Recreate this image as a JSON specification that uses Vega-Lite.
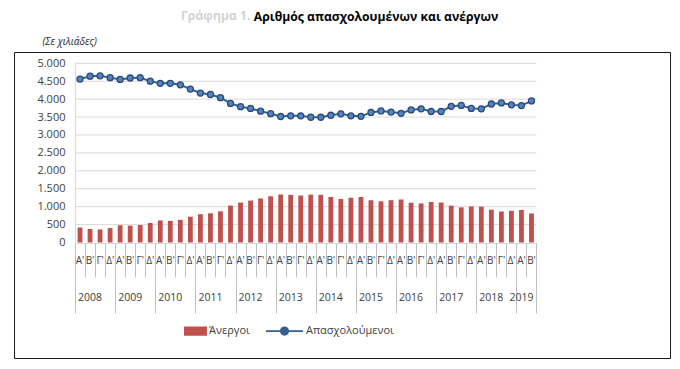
{
  "$schema": "https://vega.github.io/schema/vega-lite/v6.json",
  "width": 656,
  "height": 306,
  "autosize": {"type": "none"},
  "padding": {"left": 14, "top": 52, "right": 10, "bottom": 11},
  "title": {
    "text": "Αριθμός απασχολουμένων και ανέργων",
    "fontSize": 12.2,
    "fontWeight": "bold",
    "color": "#000000",
    "font": "Open Sans",
    "anchor": "middle",
    "frame": "group",
    "dx": 34,
    "offset": -14
  },
  "data": {
    "values": [
      {"quarter": "2008 Α'", "unemployed": 418, "employed": 4560},
      {"quarter": "2008 Β'", "unemployed": 376, "employed": 4640},
      {"quarter": "2008 Γ'", "unemployed": 364, "employed": 4650},
      {"quarter": "2008 Δ'", "unemployed": 402, "employed": 4600},
      {"quarter": "2009 Α'", "unemployed": 482, "employed": 4550},
      {"quarter": "2009 Β'", "unemployed": 470, "employed": 4590},
      {"quarter": "2009 Γ'", "unemployed": 489, "employed": 4600},
      {"quarter": "2009 Δ'", "unemployed": 545, "employed": 4500},
      {"quarter": "2010 Α'", "unemployed": 614, "employed": 4440},
      {"quarter": "2010 Β'", "unemployed": 602, "employed": 4440},
      {"quarter": "2010 Γ'", "unemployed": 633, "employed": 4400},
      {"quarter": "2010 Δ'", "unemployed": 720, "employed": 4280},
      {"quarter": "2011 Α'", "unemployed": 789, "employed": 4170},
      {"quarter": "2011 Β'", "unemployed": 815, "employed": 4130},
      {"quarter": "2011 Γ'", "unemployed": 870, "employed": 4040},
      {"quarter": "2011 Δ'", "unemployed": 1029, "employed": 3880},
      {"quarter": "2012 Α'", "unemployed": 1114, "employed": 3790},
      {"quarter": "2012 Β'", "unemployed": 1169, "employed": 3740},
      {"quarter": "2012 Γ'", "unemployed": 1230, "employed": 3665},
      {"quarter": "2012 Δ'", "unemployed": 1290, "employed": 3595},
      {"quarter": "2013 Α'", "unemployed": 1340, "employed": 3515},
      {"quarter": "2013 Β'", "unemployed": 1330, "employed": 3535},
      {"quarter": "2013 Γ'", "unemployed": 1310, "employed": 3535},
      {"quarter": "2013 Δ'", "unemployed": 1335, "employed": 3495},
      {"quarter": "2014 Α'", "unemployed": 1330, "employed": 3495},
      {"quarter": "2014 Β'", "unemployed": 1270, "employed": 3550},
      {"quarter": "2014 Γ'", "unemployed": 1213, "employed": 3590},
      {"quarter": "2014 Δ'", "unemployed": 1250, "employed": 3535},
      {"quarter": "2015 Α'", "unemployed": 1270, "employed": 3520},
      {"quarter": "2015 Β'", "unemployed": 1180, "employed": 3630},
      {"quarter": "2015 Γ'", "unemployed": 1150, "employed": 3670},
      {"quarter": "2015 Δ'", "unemployed": 1180, "employed": 3640},
      {"quarter": "2016 Α'", "unemployed": 1200, "employed": 3605},
      {"quarter": "2016 Β'", "unemployed": 1110, "employed": 3700},
      {"quarter": "2016 Γ'", "unemployed": 1090, "employed": 3730},
      {"quarter": "2016 Δ'", "unemployed": 1130, "employed": 3655},
      {"quarter": "2017 Α'", "unemployed": 1115, "employed": 3655},
      {"quarter": "2017 Β'", "unemployed": 1030, "employed": 3800},
      {"quarter": "2017 Γ'", "unemployed": 980, "employed": 3825},
      {"quarter": "2017 Δ'", "unemployed": 1005, "employed": 3740},
      {"quarter": "2018 Α'", "unemployed": 1000, "employed": 3730},
      {"quarter": "2018 Β'", "unemployed": 915, "employed": 3865},
      {"quarter": "2018 Γ'", "unemployed": 865, "employed": 3895},
      {"quarter": "2018 Δ'", "unemployed": 885, "employed": 3840},
      {"quarter": "2019 Α'", "unemployed": 910, "employed": 3820},
      {"quarter": "2019 Β'", "unemployed": 810, "employed": 3950}
    ]
  },
  "layer": [
    {
      "data": {"values": [{"g": 500}, {"g": 1000}, {"g": 1500}, {"g": 2000}, {"g": 2500}, {"g": 3000}, {"g": 3500}, {"g": 4000}, {"g": 4500}, {"g": 5000}]},
      "mark": {"type": "rule", "color": "#D9D9D9", "strokeWidth": 1, "xOffset": -5, "x2Offset": 5},
      "encoding": {
        "x": {"datum": "2008 Α'", "type": "nominal", "axis": null},
        "x2": {"datum": "2019 Β'"},
        "y": {"field": "g", "type": "quantitative", "axis": null}
      }
    },
    {
      "mark": {"type": "bar", "width": {"band": 0.48}},
      "encoding": {
        "x": {
          "field": "quarter",
          "type": "nominal",
          "scale": {"range": [61, 522.5], "paddingInner": 0, "paddingOuter": 0},
          "axis": {
            "orient": "bottom",
            "offset": -115,
            "title": "Γράφημα 1.",
            "titleX": 236,
            "titleY": -228,
            "titleAlign": "right",
            "titleBaseline": "middle",
            "titleAngle": 0,
            "titleColor": "#D4D4D4",
            "titleFontSize": 12.2,
            "titleFontWeight": "bold",
            "labelExpr": "slice(datum.value,5)",
            "labelAngle": 0,
            "labelFontSize": 10,
            "labelColor": "#404040",
            "labelPadding": 12,
            "labelOverlap": false,
            "labelBound": false,
            "ticks": false,
            "domain": true,
            "domainColor": "#D9D9D9",
            "grid": false
          }
        },
        "y": {
          "field": "unemployed",
          "type": "quantitative",
          "scale": {"domain": [0, 5000], "range": [190.5, 11.3], "nice": false},
          "axis": {
            "orient": "left",
            "title": "(Σε χιλιάδες)",
            "titleAngle": 0,
            "titleX": -33,
            "titleY": -11,
            "titleAlign": "left",
            "titleBaseline": "middle",
            "titleFontStyle": "italic",
            "titleFontWeight": "normal",
            "titleFontSize": 10,
            "titleColor": "#262626",
            "offset": -61,
            "values": [0, 500, 1000, 1500, 2000, 2500, 3000, 3500, 4000, 4500, 5000],
            "labelExpr": "replace(format(datum.value, ','), ',', '.')",
            "grid": false,
            "ticks": false,
            "domain": true,
            "domainColor": "#D9D9D9",
            "labelPadding": 10,
            "labelFontSize": 11,
            "labelColor": "#404040"
          }
        },
        "color": {
          "datum": "Άνεργοι",
          "scale": {"domain": ["Άνεργοι", "Απασχολούμενοι"], "range": ["#C0504D", "#34608F"]},
          "legend": {
            "orient": "none",
            "legendX": 154,
            "legendY": 259.5,
            "direction": "horizontal",
            "title": null,
            "padding": 0,
            "symbolSize": 1369,
            "labelFontSize": 11,
            "labelColor": "#404040",
            "labelOffset": 2,
            "columnPadding": 12,
            "encode": {
              "symbols": {
                "update": {
                  "shape": {"signal": "datum.value === 'Άνεργοι' ? 'M-0.14,-0.2H1V0.2H-0.14Z' : 'M-1,0H-0.2M0.2,0H1M-0.2,0A0.2,0.2,0,1,0,0.2,0A0.2,0.2,0,1,0,-0.2,0'"},
                  "fill": {"signal": "datum.value === 'Άνεργοι' ? '#C0504D' : '#5584C0'"},
                  "stroke": {"signal": "datum.value === 'Άνεργοι' ? 'transparent' : '#2E5585'"},
                  "strokeWidth": {"value": 1.8},
                  "opacity": {"value": 1},
                  "fillOpacity": {"value": 1}
                }
              }
            }
          }
        }
      }
    },
    {
      "mark": {"type": "line", "strokeWidth": 2},
      "encoding": {
        "x": {
          "field": "quarter",
          "type": "nominal",
          "axis": {
            "orient": "bottom",
            "offset": -115,
            "title": null,
            "labels": false,
            "domain": false,
            "grid": false,
            "ticks": true,
            "tickBand": "extent",
            "tickColor": "#BFBFBF",
            "tickWidth": 1,
            "tickSize": {"condition": {"test": "datum.extra || slice(datum.value,5) == \"Δ'\" || datum.value == \"2019 Β'\"", "value": 70}, "value": 34}
          }
        },
        "y": {"field": "employed", "type": "quantitative", "axis": null},
        "color": {"datum": "Απασχολούμενοι", "legend": null}
      }
    },
    {
      "mark": {"type": "point", "filled": true, "shape": "circle", "size": 36, "fill": "#5584C0", "stroke": "#284A78", "strokeWidth": 1.3, "opacity": 1},
      "encoding": {
        "x": {
          "field": "quarter",
          "type": "nominal",
          "axis": {
            "orient": "bottom",
            "offset": -115,
            "title": null,
            "ticks": false,
            "domain": false,
            "grid": false,
            "labelExpr": "(slice(datum.value,5) == \"Β'\" && slice(datum.value,0,4) != '2019') || datum.value == \"2019 Α'\" ? slice(datum.value,0,4) : ''",
            "labelPadding": 49,
            "labelDx": 5,
            "labelAngle": 0,
            "labelFontSize": 10.5,
            "labelColor": "#404040",
            "labelOverlap": false,
            "labelBound": false
          }
        },
        "y": {"field": "employed", "type": "quantitative", "axis": null}
      }
    }
  ],
  "resolve": {"axis": {"x": "independent", "y": "independent"}},
  "config": {
    "font": "Open Sans",
    "view": {"stroke": "#1A1A1A", "strokeWidth": 1},
    "axis": {"labelFont": "Open Sans", "titleFont": "Open Sans"},
    "legend": {"labelFont": "Open Sans"}
  }
}
